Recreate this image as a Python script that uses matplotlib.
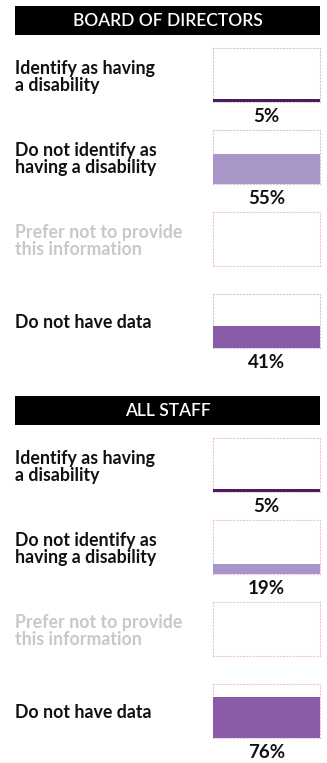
import matplotlib
matplotlib.use("Agg")
import matplotlib.pyplot as plt
from matplotlib.patches import Rectangle

# Data
sections = ["BOARD OF DIRECTORS", "ALL STAFF"]
categories = [
    "Identify as having\na disability",
    "Do not identify as\nhaving a disability",
    "Prefer not to provide\nthis information",
    "Do not have data",
]
board_values = [5, 55, 0, 41]
staff_values = [5, 19, 0, 76]
section_values = [board_values, staff_values]

bar_colors = ["#4b1c5c", "#a996c9", "#d9d0e8", "#8a5ba6"]
label_colors = ["#111111", "#111111", "#c8c8c8", "#111111"]
board_borders = ["#cfc6e0", "#cfc6e0", "#f0c0dc", "#cfc6e0"]
staff_borders = ["#f0c0dc", "#f0c0dc", "#f0c0dc", "#f0c0dc"]
section_borders = [board_borders, staff_borders]

W, H = 327, 763
fig = plt.figure(figsize=(W / 100, H / 100), dpi=100)
fig.patch.set_facecolor("white")

FONT = "Lato"


def fx(px):
    return px / W


def fy(py):
    return 1 - py / H


header_tops = [6, 396]
header_h = 29
box_left, box_right = 213, 320
box_h = 54
row_offsets = [42, 124, 206, 288]

for s, (title, values, borders) in enumerate(zip(sections, section_values, section_borders)):
    top = header_tops[s]
    fig.patches.append(Rectangle((fx(15), fy(top + header_h)), fx(305), header_h / H,
                                 transform=fig.transFigure, facecolor="black",
                                 edgecolor="none"))
    fig.text(fx(167.5), fy(top + header_h / 2 + 0.5), title, color="white",
             fontsize=12.5, family=FONT, fontweight="semibold", ha="center", va="center")

    for i, (cat, val) in enumerate(zip(categories, values)):
        btop = top + row_offsets[i]
        ax = fig.add_axes([fx(box_left), fy(btop + box_h), fx(box_right - box_left), box_h / H])
        ax.bar([0], [val], width=1.0, color=bar_colors[i], zorder=3)
        ax.set_xlim(-0.5, 0.5)
        ax.set_ylim(0, 100)
        ax.set_xticks([])
        ax.set_yticks([])
        for sp in ax.spines.values():
            sp.set_linestyle((0, (1, 2)))
            sp.set_linewidth(0.8)
            sp.set_color(borders[i])
        ax.patch.set_alpha(0)

        fig.text(fx(15), fy(btop + box_h / 2 + 2), cat, color=label_colors[i],
                 fontsize=12.8, family=FONT, fontweight="bold", ha="left",
                 va="center", linespacing=1.05)
        if val > 0:
            fig.text(fx((box_left + box_right) / 2), fy(btop + box_h + 14), f"{val}%",
                     color="#111111", fontsize=13.5, family=FONT, fontweight="bold",
                     ha="center", va="center")

fig.savefig("out.png", dpi=100, facecolor="white")
